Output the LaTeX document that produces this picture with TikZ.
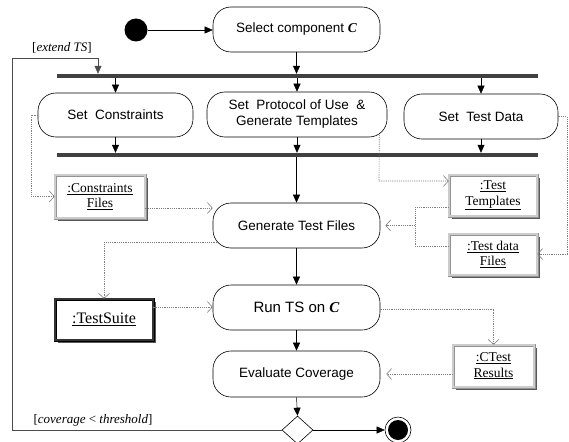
\documentclass[tikz,border=0pt]{standalone}
\usepackage{fontspec}
\setmainfont{Liberation Serif}
\setsansfont{Liberation Sans}
\usetikzlibrary{arrows.meta,shapes.geometric,shadows,calc}
\newcommand{\varC}{{\rmfamily\bfseries\itshape C}}
\begin{document}
\begin{tikzpicture}[x=1pt,y=1pt,
  act/.style={draw, rounded corners=18pt, minimum width=167pt, minimum height=45pt, font=\sffamily\fontsize{13.5}{16}\selectfont, align=center, inner sep=2pt, line width=0.6pt},
  obj/.style={draw=gray!85, double=gray!40, double distance=1.8pt, line width=0.6pt, fill=white, drop shadow={shadow xshift=3pt, shadow yshift=-3pt, fill=black!65, opacity=1}, font=\fontsize{13.5}{15.5}\selectfont, align=center, inner sep=2pt},
  objb/.style={obj, draw=black, double=black!80, font=\fontsize{16}{18}\selectfont},
  bar/.style={fill=black!75, minimum width=481pt, minimum height=4pt, inner sep=0pt},
  flow/.style={-{Triangle[length=8pt,width=7pt]}, line width=0.5pt},
  dep/.style={-{Straight Barb[length=5pt,width=11pt]}, gray, dash pattern=on 1.2pt off 1pt, line width=0.6pt},
  depl/.style={gray, dash pattern=on 1.2pt off 1pt, line width=0.6pt},
  guard/.style={font=\fontsize{13}{15}\selectfont}
]
\useasboundingbox (0,0) rectangle (569,-441);

% activity nodes
\node[circle, fill, minimum size=23pt, inner sep=0pt] (start) at (136,-30) {};
\node[act] (sel) at (296.5,-29.5) {Select component \varC};
\node[bar] (bar1) at (297.5,-76) {};
\node[act, minimum width=155pt, minimum height=44pt] (cons) at (115.5,-115) {Set~~Constraints};
\node[act, minimum width=180pt] (prot) at (297,-114.5) {Set~~Protocol of Use~~\&\\Generate Templates};
\node[act, minimum width=154pt] (data) at (481,-116.5) {Set~~Test Data};
\node[bar] (bar2) at (297.5,-155) {};
\node[act] (gen) at (296.5,-225.5) {Generate Test Files};
\node[act, font=\sffamily\fontsize{15}{17}\selectfont] (run) at (296.5,-307.5) {Run TS on \varC};
\node[act, minimum height=46pt] (eval) at (296.5,-374) {Evaluate Coverage};
\node[diamond, draw, minimum width=31pt, minimum height=28pt, inner sep=0pt, line width=0.6pt] (dec) at (297.5,-430) {};
\node[circle, draw, minimum size=26pt, inner sep=0pt, line width=0.6pt] (fin) at (398,-430) {};
\fill (fin.center) circle (10pt);

% object nodes
\node[obj, minimum width=90pt, minimum height=43pt] (cf) at (100,-196.5) {\underline{:Constraints}\\\underline{Files}};
\node[obj, minimum width=88pt, minimum height=41pt] (tt) at (493,-195.5) {\underline{:Test}\\\underline{Templates}};
\node[obj, minimum width=88pt, minimum height=41pt] (td) at (493,-254.5) {\underline{:Test data}\\\underline{Files}};
\node[objb, minimum width=98pt, minimum height=41pt] (ts) at (104,-319.5) {\underline{:TestSuite}};
\node[obj, minimum width=81pt, minimum height=42pt] (cr) at (493.5,-366) {\underline{:CTest}\\\underline{Results}};

% guards
\node[guard] (g1) at (62,-48) {[\textit{extend TS}]};
\node[guard] (g2) at (93,-420) {[\textit{coverage} < \textit{threshold}]};

% control flow
\draw[flow] (start.east) -- (sel.west |- start.east);
\draw[flow] (sel.south) -- (sel.south |- bar1.north);
\draw[flow] (cons.north |- bar1.south) -- (cons.north);
\draw[flow] (prot.north |- bar1.south) -- (prot.north);
\draw[flow] (data.north |- bar1.south) -- (data.north);
\draw[flow] (cons.south) -- (cons.south |- bar2.north);
\draw[flow] (prot.south) -- (prot.south |- bar2.north);
\draw[flow] (data.south) -- (data.south |- bar2.north);
\draw[flow] (gen.north |- bar2.south) -- (gen.north);
\draw[flow] (gen.south) -- (run.north);
\draw[flow] (run.south) -- (eval.north);
\draw[flow] (eval.south) -- (dec.north);
\draw[flow] (dec.east) -- (fin.west);
\coordinate (lp1) at (12,-431);
\coordinate (lp2) at (12,-58);
\coordinate (lp3) at (98,-58);
\draw[flow, black!70] (dec.west) -- (dec.west -| lp1) -- (lp2) -- (lp3) -- (lp3 |- bar1.north);

% object flows
\coordinate (c1) at (31,-115);
\draw[dep] (cons.west) -- (c1) -- (c1 |- cf.west) -- (cf.west);
\draw[dep] ($(cf.east)+(0,-11.5)$) -- ($(gen.west)+(0,17.5)$);
\coordinate (d3) at (379,-181);
\draw[dep] ($(prot.south east)+(-8,2.5)$) -- (d3) -- (tt.west |- d3);
\coordinate (d4) at (567,-254);
\draw[dep] (data.east) -- (data.east -| d4) -- (d4) -- (td.east |- d4);
\coordinate (m) at (415,-225.5);
\draw[depl] ($(tt.west)+(0,-11.5)$) -| (m);
\draw[depl] ($(td.west)+(0,8.5)$) -| (m);
\draw[dep, shorten >=5pt] (m) -- (gen.east);
\draw[dep] ($(gen.west)+(4,-16.5)$) -| (ts.north);
\draw[dep] ($(ts.east)+(0,12.5)$) coordinate (t1) -- (run.west |- t1);
\draw[dep] ($(run.east)+(0,-1.5)$) -| (cr.north);
\draw[dep, shorten >=6pt] ($(cr.west)+(0,-8)$) -- (eval.east);
\end{tikzpicture}
\end{document}
